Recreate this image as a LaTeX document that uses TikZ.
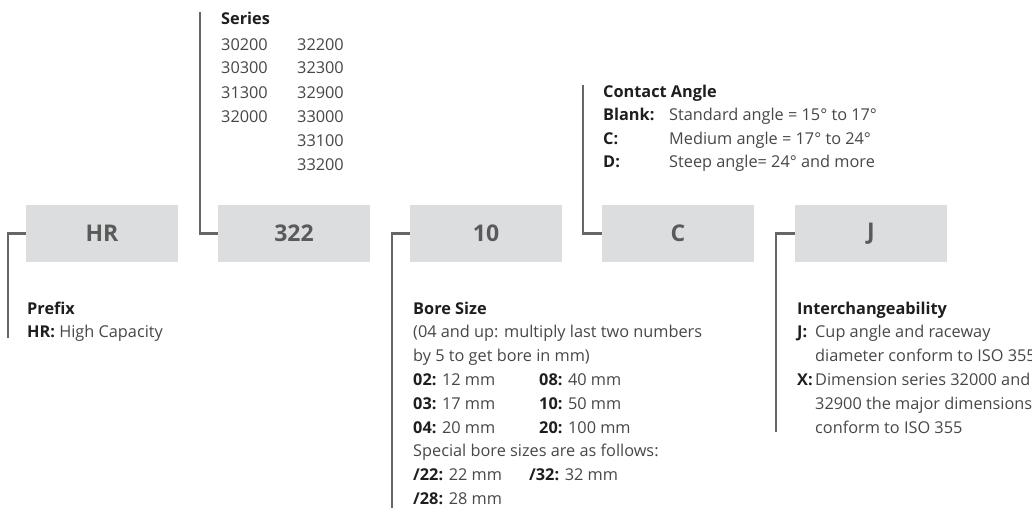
\documentclass[tikz,border=0pt]{standalone}
\usepackage{fontspec}
\setmainfont{Open Sans}
\definecolor{linegray}{HTML}{666666}
\definecolor{boxgray}{HTML}{DCDDDF}
\definecolor{boxtext}{HTML}{5A5A5A}
\definecolor{txtgray}{HTML}{474747}
\definecolor{dark}{HTML}{1E1E1E}
\newcommand{\mylbl}[1]{{\color{dark}\bfseries #1}}
\begin{document}
\begin{tikzpicture}[x=1pt,y=-1pt,
  conn/.style={draw=linegray, line width=2.2pt},
  codebox/.style={fill=boxgray, minimum width=152pt, minimum height=57pt, inner sep=0pt,
    font=\fontsize{23}{26}\selectfont\bfseries, text=boxtext},
  txt/.style={anchor=base west, inner sep=0pt, font=\fontsize{16.3}{19}\selectfont, text=txtgray},
  hd/.style={anchor=base west, inner sep=0pt, font=\fontsize{16.3}{19}\selectfont\bfseries, text=dark}]
\useasboundingbox (0,0) rectangle (1032,511);
\clip (0,0) rectangle (1032,511);
% boxes
\node[codebox] (hr) at (102,233.5) {HR};
\node[codebox] (s322) at (294,233.5) {322};
\node[codebox] (b10) at (486,233.5) {10};
\node[codebox] (c) at (678,233.5) {C};
\node[codebox] (j) at (871,233.5) {J};
% connector ends
\coordinate (hrend) at (8,338);
\coordinate (s322end) at (200,12);
\coordinate (b10end) at (392,508);
\coordinate (cend) at (583,85);
\coordinate (jend) at (776,432);
\draw[conn] (hr.west) -| (hrend);
\draw[conn] (s322.west) -| (s322end);
\draw[conn] (b10.west) -| (b10end);
\draw[conn] (c.west) -| (cend);
\draw[conn] (j.west) -| (jend);
% Series
\node[hd] (serh) at (221,25) {Series};
\node[txt] (s1) at (221,50) {30200};
\node[txt] (s2) at (221,74) {30300};
\node[txt] (s3) at (221,98) {31300};
\node[txt] (s4) at (221,122) {32000};
\node[txt] (s5) at (297,50) {32200};
\node[txt] (s6) at (297,74) {32300};
\node[txt] (s7) at (297,98) {32900};
\node[txt] (s8) at (297,122) {33000};
\node[txt] (s9) at (297,146) {33100};
\node[txt] (s10) at (297,170) {33200};
% Contact angle
\node[hd] (cah) at (603,97) {Contact Angle};
\node[txt] (ca1) at (603,120.5) {\mylbl{Blank:}};
\node[txt] (ca2) at (603,144) {\mylbl{C:}};
\node[txt] (ca3) at (603,167.5) {\mylbl{D:}};
\node[txt] (ca4) at (669,120.5) {Standard angle = 15° to 17°};
\node[txt] (ca5) at (669,144) {Medium angle = 17° to 24°};
\node[txt] (ca6) at (669,167.5) {Steep angle= 24° and more};
% Prefix
\node[hd] (preh) at (27,314) {Prefix};
\node[txt] (pre1) at (27,337.5) {\mylbl{HR:} High Capacity};
% Bore size
\node[hd] (boreh) at (413,314) {Bore Size};
\node[txt] (bo1) at (413,337.5) {(04 and up: multiply last two numbers};
\node[txt] (bo2) at (413,361.5) {by 5 to get bore in mm)};
\node[txt] (bo3) at (413,385) {\mylbl{02:} 12 mm};
\node[txt] (bo4) at (413,409) {\mylbl{03:} 17 mm};
\node[txt] (bo5) at (413,433) {\mylbl{04:} 20 mm};
\node[txt] (bo6) at (539,385) {\mylbl{08:} 40 mm};
\node[txt] (bo7) at (539,409) {\mylbl{10:} 50 mm};
\node[txt] (bo8) at (539,433) {\mylbl{20:} 100 mm};
\node[txt] (bo9) at (413,456.5) {Special bore sizes are as follows:};
\node[txt] (bo10) at (413,480.5) {\mylbl{/22:} 22 mm};
\node[txt] (bo11) at (529,480.5) {\mylbl{/32:} 32 mm};
\node[txt] (bo12) at (413,504) {\mylbl{/28:} 28 mm};
% Interchangeability
\node[hd] (inth) at (797,314) {Interchangeability};
\node[txt] (in1) at (797,337.5) {\mylbl{J:}};
\node[txt] (in2) at (815,337.5) {Cup angle and raceway};
\node[txt] (in3) at (815,361.5) {diameter conform to ISO 355};
\node[txt] (in4) at (797,385) {\mylbl{X:}};
\node[txt] (in5) at (815,385) {Dimension series 32000 and};
\node[txt] (in6) at (815,409) {32900 the major dimensions};
\node[txt] (in7) at (815,433) {conform to ISO 355};
\end{tikzpicture}
\end{document}
